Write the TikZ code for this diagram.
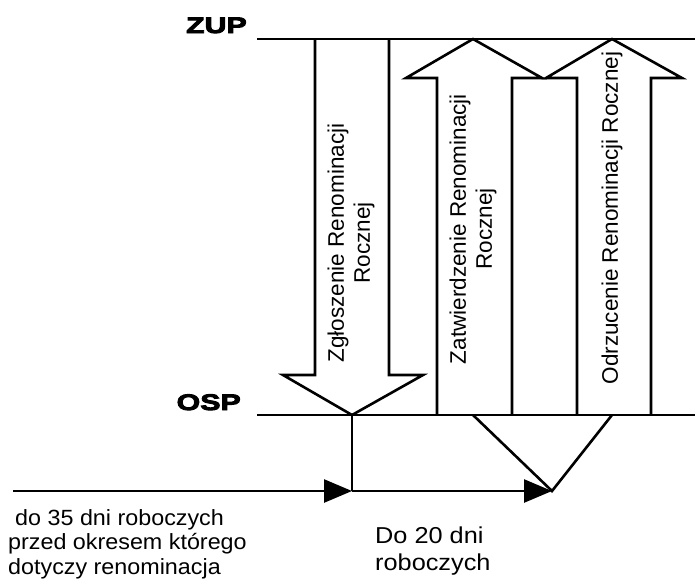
\documentclass[tikz,border=0pt]{standalone}
\usepackage{fontspec}
\setmainfont{Liberation Sans}
\newfontfamily\heavyfont[FakeBold=4,FakeStretch=1.35]{Liberation Sans Bold}
\newfontfamily\leftfont[FakeStretch=1.06]{Liberation Sans}
\newfontfamily\midfont[FakeStretch=1.1]{Liberation Sans}
\usetikzlibrary{arrows.meta}
\tikzset{
  line/.style={line width=2.6pt, line join=miter, line cap=butt},
  blockarrow/.style={line width=2.6pt, line join=miter},
  vlabel/.style={rotate=90, align=center, inner sep=0pt, font=\fontsize{22.5}{26}\selectfont},
  hlabel/.style={align=left, inner sep=0pt},
  level/.style={inner sep=0pt, font=\heavyfont\fontsize{22.5}{24}\selectfont},
  timearrow/.style={line width=2.6pt, -{Triangle[length=28pt,width=23pt]}}
}
\begin{document}
\begin{tikzpicture}[x=1pt,y=-1pt]
\useasboundingbox (0,0) rectangle (695,582);
% named points
\coordinate (zupL) at (257,39);
\coordinate (zupR) at (695,39);
\coordinate (ospL) at (257,415);
\coordinate (ospR) at (695,415);
\coordinate (tipD) at (352,415);
\coordinate (tipU1) at (473,39);
\coordinate (tipU2) at (612,39);
\coordinate (baseU1) at (473,415);
\coordinate (baseU2) at (612,415);
\coordinate (start) at (13,491);
\coordinate (t1) at (352,491);
\coordinate (t2) at (552,491);

% level lines
\node[level, anchor=base east] (zup) at (247,33) {ZUP};
\node[level, anchor=base east] (osp) at (241,410) {OSP};
\draw[line] (zupL) -- (zupR);
\draw[line] (ospL) -- (ospR);

% block arrow down
\draw[blockarrow] (315,39) -- (315,375) -- (283,375) -- (tipD) -- (423,375) -- (389,375) -- (389,39);
% block arrow up 1
\draw[blockarrow] (437,415) -- (437,78) -- (406,78) -- (tipU1) -- (542,78) -- (512,78) -- (512,415);
% block arrow up 2
\draw[blockarrow] (577,415) -- (577,78) -- (546,78) -- (tipU2) -- (682,78) -- (651,78) -- (651,415);

% labels in arrows
\node[vlabel] (zgl) at (351,243) {Zgłoszenie Renominacji\\Rocznej};
\node[vlabel] (zat) at (473,229) {Zatwierdzenie Renominacji\\Rocznej};
\node[vlabel] (odr) at (612,218) {Odrzucenie Renominacji Rocznej};

% time line
\draw[line] (tipD) -- (t1);
\draw[timearrow] (start) -- (t1);
\draw[timearrow] (t1) -- (t2);
\draw[line, line join=miter] (baseU1) -- (t2) -- (baseU2);

% bottom texts (anchor at the baseline of the last line)
\node[hlabel, anchor=base west, font=\leftfont\fontsize{22}{24.5}\selectfont] (left) at (8,574)
  {\hspace*{7pt}do 35 dni roboczych\\przed okresem którego\\dotyczy renominacja};
\node[hlabel, anchor=base west, font=\midfont\fontsize{23}{27}\selectfont] (do20) at (375,570)
  {Do 20 dni\\roboczych};
\end{tikzpicture}
\end{document}
